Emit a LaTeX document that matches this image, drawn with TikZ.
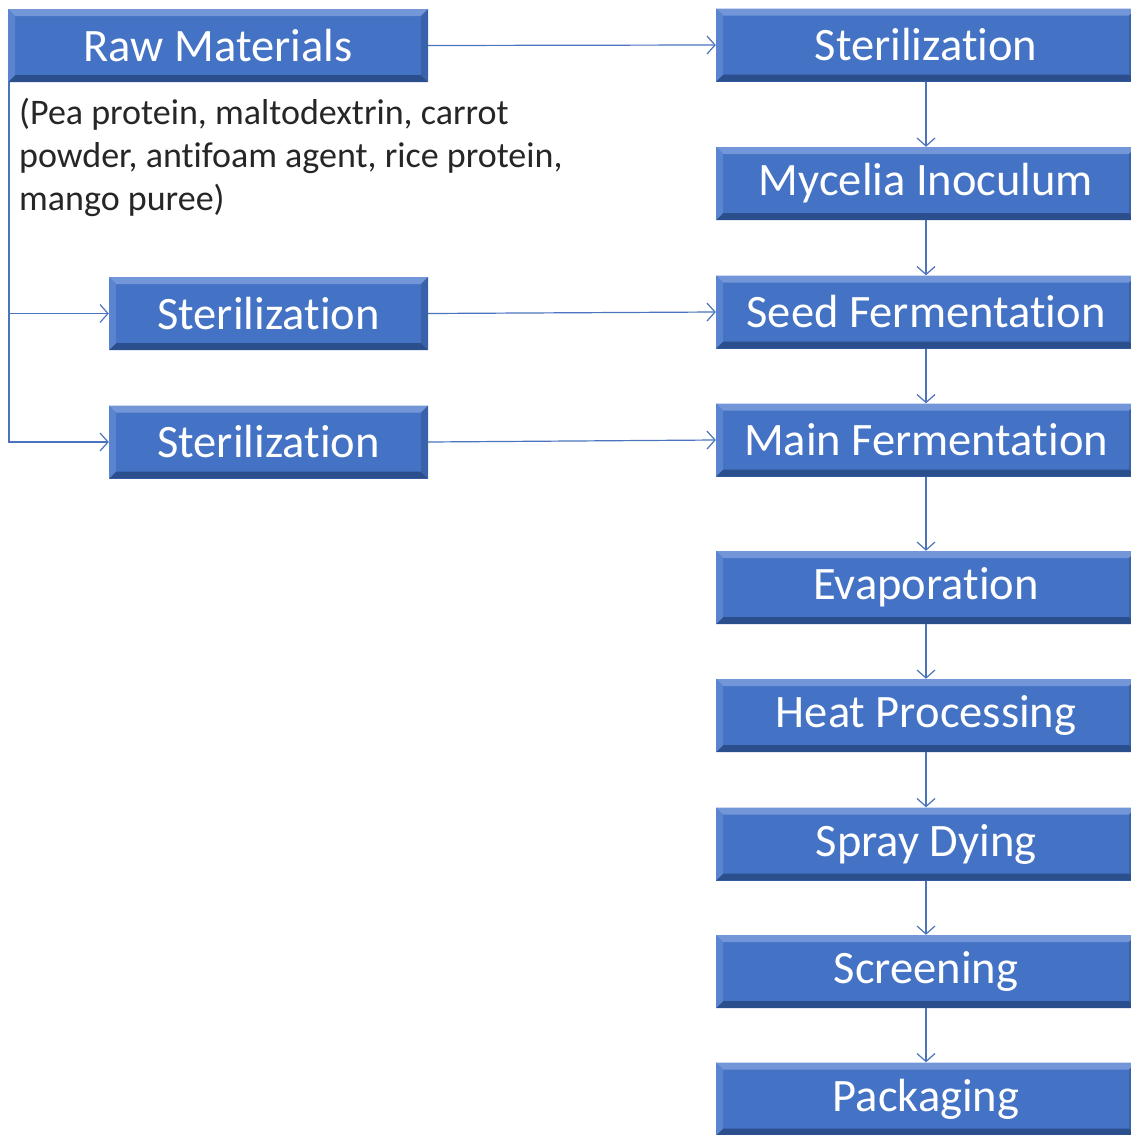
\documentclass[tikz,border=0pt]{standalone}
\usepackage{fontspec}
\setmainfont{Carlito}[Ligatures=NoCommon]
\usetikzlibrary{arrows.meta}
\definecolor{boxblue}{HTML}{4472C4}
\definecolor{bevtop}{HTML}{7396D8}
\definecolor{bevbot}{HTML}{2B4E8C}
\definecolor{bevleft}{HTML}{5B84D0}
\definecolor{bevright}{HTML}{3A62AA}
\definecolor{linkblue}{HTML}{4A74BE}
\tikzset{
  x=1pt, y=-1pt,
  bevbox/.style={rectangle, fill=boxblue, text=white, inner sep=0pt,
    minimum width=#1, minimum height=73pt, font=\fontsize{46.5}{50}\selectfont,
    path picture={
      \fill[bevtop] (path picture bounding box.north west) -- (path picture bounding box.north east)
        -- ([shift={(-7pt,-7pt)}]path picture bounding box.north east) -- ([shift={(7pt,-7pt)}]path picture bounding box.north west) -- cycle;
      \fill[bevbot] (path picture bounding box.south west) -- (path picture bounding box.south east)
        -- ([shift={(-7pt,7pt)}]path picture bounding box.south east) -- ([shift={(7pt,7pt)}]path picture bounding box.south west) -- cycle;
      \fill[bevleft] (path picture bounding box.south west) -- (path picture bounding box.north west)
        -- ([shift={(7pt,-7pt)}]path picture bounding box.north west) -- ([shift={(7pt,7pt)}]path picture bounding box.south west) -- cycle;
      \fill[bevright] (path picture bounding box.south east) -- (path picture bounding box.north east)
        -- ([shift={(-7pt,-7pt)}]path picture bounding box.north east) -- ([shift={(-7pt,7pt)}]path picture bounding box.south east) -- cycle;
    }},
  bevbox/.default=420pt,
  link/.style={draw=linkblue, line width=1.2pt, -{Straight Barb[length=8pt,width=18pt,line width=1.2pt]}}
}
\begin{document}
\begin{tikzpicture}
\useasboundingbox[fill=white] (0,0) rectangle (1130,1135);
% left column
\node[bevbox=420pt] (raw) at (218,45.5) {Raw Materials};
\node[bevbox=319pt] (ls1) at (268.5,313.5) {Sterilization};
\node[bevbox=319pt] (ls2) at (268.5,442) {Sterilization};
\node[anchor=north west, align=left, text=black!85, inner sep=0pt,
  font=\fontsize{36}{43}\selectfont] (note) at (19,98)
  {(Pea protein, maltodextrin, carrot\\powder, antifoam agent, rice protein,\\mango puree)};
% right column
\node[bevbox] (rs) at (926,45) {Sterilization};
\node[bevbox] (myc) at (926,183.5) {Mycelia Inoculum};
\node[bevbox] (seed) at (926,312) {Seed Fermentation};
\node[bevbox] (mainf) at (926,440) {Main Fermentation};
\node[bevbox] (evap) at (926,587.5) {Evaporation};
\node[bevbox] (heat) at (926,715.5) {Heat Processing};
\node[bevbox] (spray) at (926,844) {Spray Dying};
\node[bevbox] (screen) at (926,971.5) {Screening};
\node[bevbox] (pack) at (926,1099) {Packaging};
% connectors
\coordinate (trunk) at (9,82);
\draw[link] (raw.east) -- (rs.west);
\draw[link] (trunk) |- (ls1.west);
\draw[link] (trunk) |- (ls2.west);
\draw[link] (ls1.east) -- (seed.west);
\draw[link] (ls2.east) -- (mainf.west);
\draw[link] (rs.south) -- (myc.north);
\draw[link] (myc.south) -- (seed.north);
\draw[link] (seed.south) -- (mainf.north);
\draw[link] (mainf.south) -- (evap.north);
\draw[link] (evap.south) -- (heat.north);
\draw[link] (heat.south) -- (spray.north);
\draw[link] (spray.south) -- (screen.north);
\draw[link] (screen.south) -- (pack.north);
\end{tikzpicture}
\end{document}
